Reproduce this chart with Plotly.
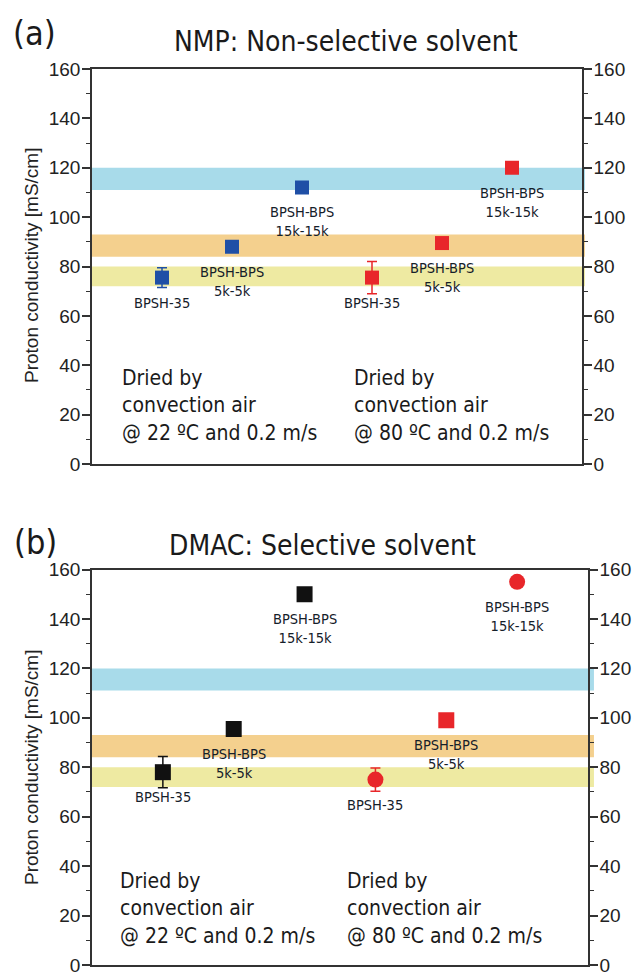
import plotly.graph_objects as go

# ---------------- data ----------------
samples = ["BPSH-35", "BPSH-BPS<br>5k-5k", "BPSH-BPS<br>15k-15k"]

# (a) NMP: non-selective solvent
nmp_22 = [75.5, 88.0, 112.0]
nmp_22_err = [4.0, 0.0, 0.0]
nmp_80 = [75.5, 89.5, 120.0]
nmp_80_err = [6.5, 0.0, 0.0]

# (b) DMAC: selective solvent
dmac_22 = [78.0, 95.5, 150.0]
dmac_22_err = [6.3, 0.0, 0.0]
dmac_80 = [75.0, 99.0, 155.0]
dmac_80_err = [4.7, 0.0, 0.0]
dmac_80_symbols = ["circle", "square", "circle"]

# reference bands (min, max) for the three samples
band_low = [111, 84, 72]
band_high = [120, 93, 80]
band_colors = ["#a8dbea", "#f4d08e", "#eeeaa2"]

yticks = [0, 20, 40, 60, 80, 100, 120, 140, 160]

cond_22 = "Dried by<br>convection air<br>@ 22 ºC and 0.2 m/s"
cond_80 = "Dried by<br>convection air<br>@ 80 ºC and 0.2 m/s"

# ---------------- layout constants ----------------
W, H = 633, 977
def py(p):  # pixel from top -> paper
    return 1 - p / H
def px(p):
    return p / W

BLUE = "#1f4fa6"
RED = "#e8262a"
BLACK = "#111111"
AX = "#333333"
LABEL_FONT = dict(family="DejaVu Sans Condensed, DejaVu Sans", size=14.5, color="#15202a")
TEXT_FONT = dict(family="DejaVu Sans Condensed, DejaVu Sans", size=21, color="#1a1a1a")
TICK_FONT = dict(family="Liberation Sans, Arial", size=19, color="#222222")

fig = go.Figure()

x22 = [1, 2, 3]
x80 = [4, 5, 6]

def add_series(xa, ya, xs, ys, err, color, size, symbol):
    fig.add_trace(go.Scatter(
        x=xs, y=ys, mode="markers", xaxis=xa, yaxis=ya,
        marker=dict(color=color, size=size, symbol=symbol, line=dict(width=0)),
        error_y=dict(type="data", array=err, arrayminus=err, visible=True,
                     color=color, thickness=1.5, width=5),
        showlegend=False, hoverinfo="skip"))

add_series("x", "y", x22, nmp_22, nmp_22_err, BLUE, 14, "square")
add_series("x", "y", x80, nmp_80, nmp_80_err, RED, 14, "square")
add_series("x2", "y2", x22, dmac_22, dmac_22_err, BLACK, 16, "square")
add_series("x2", "y2", x80, dmac_80, dmac_80_err, RED, 16, dmac_80_symbols)

# invisible traces on right axes so they render
fig.add_trace(go.Scatter(x=[None], y=[None], xaxis="x", yaxis="y3", showlegend=False))
fig.add_trace(go.Scatter(x=[None], y=[None], xaxis="x2", yaxis="y4", showlegend=False))

annotations = []
shapes = []

def add_labels(xref, yref, xs, ys):
    for xv, yv, s in zip(xs, ys, samples):
        annotations.append(dict(x=xv, y=yv, xref=xref, yref=yref, text=s,
                                showarrow=False, yanchor="top", xanchor="center",
                                yshift=-15, font=LABEL_FONT, align="center"))

add_labels("x", "y", x22, nmp_22)
add_labels("x", "y", x80, nmp_80)
add_labels("x2", "y2", x22, dmac_22)
add_labels("x2", "y2", x80, dmac_80)

for xr, yr, ext in (("x domain", "y", 1.006), ("x2 domain", "y2", 1.012)):
    for lo, hi, c in zip(band_low, band_high, band_colors):
        shapes.append(dict(type="rect", xref=xr, yref=yr, x0=0, x1=ext, y0=lo, y1=hi,
                           fillcolor=c, line=dict(width=0), layer="below"))

# condition text blocks
annotations += [
    dict(x=0.4, y=23.9, xref="x", yref="y", text=cond_22, showarrow=False,
         xanchor="left", yanchor="middle", align="left", font=TEXT_FONT),
    dict(x=3.71, y=23.9, xref="x", yref="y", text=cond_80, showarrow=False,
         xanchor="left", yanchor="middle", align="left", font=TEXT_FONT),
    dict(x=0.37, y=23.0, xref="x2", yref="y2", text=cond_22, showarrow=False,
         xanchor="left", yanchor="middle", align="left", font=TEXT_FONT),
    dict(x=3.57, y=23.0, xref="x2", yref="y2", text=cond_80, showarrow=False,
         xanchor="left", yanchor="middle", align="left", font=TEXT_FONT),
]

# titles
TITLE_FONT = dict(family="DejaVu Sans Condensed, DejaVu Sans", size=28, color="#1a1a1a")
PANEL_FONT = dict(family="DejaVu Sans Condensed, DejaVu Sans", size=34, color="#1a1a1a")
annotations += [
    dict(x=px(11), y=py(33), xref="paper", yref="paper", text="(a)", showarrow=False,
         xanchor="left", yanchor="middle", font=PANEL_FONT),
    dict(x=px(172), y=py(41), xref="paper", yref="paper", text="NMP: Non-selective solvent",
         showarrow=False, xanchor="left", yanchor="middle", font=TITLE_FONT),
    dict(x=px(12), y=py(542), xref="paper", yref="paper", text="(b)", showarrow=False,
         xanchor="left", yanchor="middle", font=PANEL_FONT),
    dict(x=px(167), y=py(545), xref="paper", yref="paper", text="DMAC: Selective solvent",
         showarrow=False, xanchor="left", yanchor="middle", font=TITLE_FONT),
]

YTITLE_FONT = dict(family="Liberation Sans, Arial", size=19, color="#222222")
for cy in (266, 768):
    annotations.append(dict(x=px(31), y=py(cy), xref="paper", yref="paper",
                            text="Proton conductivity [mS/cm]", showarrow=False, textangle=-90,
                            xanchor="center", yanchor="middle", font=YTITLE_FONT))

xa_common = dict(range=[0, 7], showticklabels=False, ticks="", showgrid=False, zeroline=False,
                 showline=True, linecolor=AX, linewidth=1.5, mirror=True, fixedrange=True,
                 automargin=False)
ya_common = dict(range=[0, 160], tickvals=yticks, ticks="outside", ticklen=8, tickwidth=1.5,
                 tickcolor=AX, showgrid=False, zeroline=False, showline=True, linecolor=AX,
                 linewidth=1.5, tickfont=TICK_FONT, ticklabelstandoff=-2,
                 ticklabeloverflow="allow",
                 minor=dict(dtick=10, ticks="outside", ticklen=4, tickwidth=1.2, tickcolor=AX),
                 fixedrange=True, automargin=False)

dom_a = [py(464), py(69)]
dom_b = [py(965), py(569.5)]

fig.update_layout(
    width=W, height=H, margin=dict(l=0, r=0, t=0, b=0, autoexpand=False),
    paper_bgcolor="white", plot_bgcolor="white",
    xaxis=dict(domain=[px(92), px(582)], anchor="y", **xa_common),
    xaxis2=dict(domain=[px(92), px(588)], anchor="y2", **xa_common),
    yaxis=dict(domain=dom_a, anchor="x", side="left", **ya_common),
    yaxis2=dict(domain=dom_b, anchor="x2", side="left", **ya_common),
    yaxis3=dict(overlaying="y", anchor="x", side="right", **ya_common),
    yaxis4=dict(overlaying="y2", anchor="x2", side="right", **ya_common),
    annotations=annotations, shapes=shapes, showlegend=False,
)

fig.write_html("out.html", config={"displayModeBar": False},
               post_script="document.body.style.margin='0px';"
                           "document.documentElement.style.overflow='hidden';")
